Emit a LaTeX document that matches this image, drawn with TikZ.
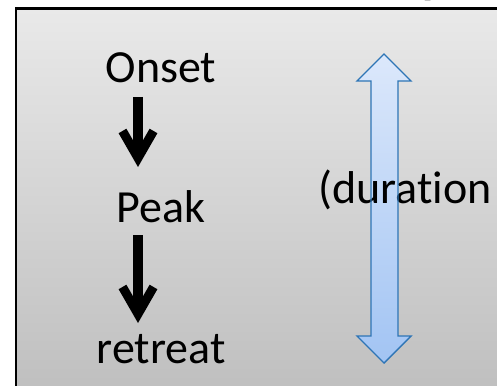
\documentclass[tikz,border=0pt]{standalone}
\usepackage{fontspec}
\setmainfont{Carlito}[Ligatures=NoCommon]
\usetikzlibrary{calc,arrows.meta}
\definecolor{bgtop}{HTML}{E9E9E9}
\definecolor{bgbot}{HTML}{BEBEBE}
\definecolor{blutop}{HTML}{DCE8FB}
\definecolor{blubot}{HTML}{A2C4F3}
\definecolor{bluline}{HTML}{2E75B6}
\tikzset{
  lbl/.style={inner sep=0pt, font=\fontsize{46}{55}\selectfont, text=black},
  blk/.style={line width=10pt, -{Straight Barb[length=27pt,width=31pt,line width=9pt]}},
}
\begin{document}
\begin{tikzpicture}[x=1pt,y=-1pt]
\useasboundingbox (0,0) rectangle (497,385);
% background panel
\shade[top color=bgtop, bottom color=bgbot] (16,8.5) rectangle (510,400);
\draw[line width=2.5pt] (16,400) -- (16,8.5) -- (510,8.5);
% cut-off title glyph
\node[lbl, anchor=base west, font=\bfseries\fontsize{46}{55}\selectfont] (ttl) at (422,-6) {p};
% labels
\node[lbl, anchor=base] (onset) at (161,83) {Onset};
\node[lbl, anchor=base] (peak) at (161,222) {Peak};
\node[lbl, anchor=base] (retreat) at (161,363) {retreat};
% black arrows
\draw[blk] ($(onset.base)+(-23,14)$) -- ($(peak.base)+(-23,-55)$);
\draw[blk] ($(peak.base)+(-23,13)$) -- ($(retreat.base)+(-23,-40)$);
% blue double arrow
\def\dblarrow{(384,54) -- (411,81) -- (398,81) -- (398,336) -- (411,336) -- (384,363) -- (357,336) -- (371,336) -- (371,81) -- (357,81) -- cycle}
\shade[top color=blutop, bottom color=blubot] \dblarrow;
\node[lbl, anchor=base west] (dur) at (318,203) {(duration};
\draw[bluline, line width=1.4pt, line join=miter] \dblarrow;
\end{tikzpicture}
\end{document}
